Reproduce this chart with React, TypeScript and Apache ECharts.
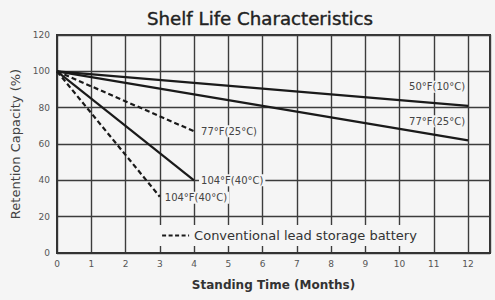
import React, { useEffect, useRef } from "react";
import * as echarts from "echarts";

const title = "Shelf Life Characteristics";
const xName = "Standing Time (Months)";
const yName = "Retention Capacity (%)";
const legendName = "Conventional lead storage battery";

// Lead-calcium (solid) curves
const solid50F: [number, number][] = [[0, 100], [12, 81]];
const solid77F: [number, number][] = [[0, 100], [12, 62]];
const solid104F: [number, number][] = [[0, 100], [4, 40]];
// Conventional lead storage battery (dashed) curves
const dash77F: [number, number][] = [[0, 100], [4, 67]];
const dash104F: [number, number][] = [[0, 100], [3, 31]];

const labels = ["50°F(10°C)", "77°F(25°C)", "104°F(40°C)", "77°F(25°C)", "104°F(40°C)"];

const BG = "#f5f5f5";
const FONT = "DejaVu Sans";
const LINE = "#1a1a1a";

export default function App() {
  const ref = useRef<HTMLDivElement>(null);
  useEffect(() => {
    if (!ref.current) return;
    const chart = echarts.init(ref.current, undefined, { renderer: "svg" });
    const labelStyle = {
      show: true,
      fontFamily: FONT,
      fontSize: 10,
      color: "#444",
      backgroundColor: BG,
      padding: [1, 2],
    };
    const solidLine = { color: LINE, width: 2.2, type: "solid" as const };
    const dashLine = { color: LINE, width: 2.2, type: [5, 3] as any };
    chart.setOption({
      animation: false,
      backgroundColor: BG,
      textStyle: { fontFamily: FONT },
      title: {
        text: title,
        left: 142,
        top: 4,
        textStyle: {
          fontFamily: FONT,
          fontSize: 18.2,
          fontWeight: "normal",
          color: "#222",
          textBorderColor: "#222",
          textBorderWidth: 0.4,
        },
      },
      grid: {
        left: 57,
        right: 5,
        top: 35,
        bottom: 47,
        show: true,
        borderColor: "#333",
        borderWidth: 2,
        backgroundColor: "transparent",
      },
      legend: {
        data: [legendName],
        left: 158,
        top: 225,
        backgroundColor: BG,
        padding: [4, 6, 4, 3],
        itemWidth: 27,
        itemHeight: 12,
        itemGap: 4,
        itemStyle: { opacity: 0, borderWidth: 0 },
        lineStyle: { type: [4, 2.5] as any, width: 2.2, color: LINE },
        textStyle: { fontFamily: FONT, fontSize: 13, color: "#333" },
      },
      xAxis: {
        type: "value",
        min: 0,
        max: 12.64,
        interval: 1,
        name: xName,
        nameLocation: "middle",
        nameGap: 26,
        nameTextStyle: { fontFamily: FONT, fontSize: 12, fontWeight: "bold", color: "#333" },
        axisLine: { show: true, lineStyle: { color: "#333", width: 2 } },
        axisTick: { show: false },
        axisLabel: {
          fontFamily: FONT,
          fontSize: 9,
          color: "#555",
          margin: 6,
          showMaxLabel: false,
          formatter: (v: number) => (Number.isInteger(v) ? String(v) : ""),
        },
        splitLine: { show: true, lineStyle: { color: "#3c3c3c", width: 1.4 } },
      },
      yAxis: {
        type: "value",
        min: 0,
        max: 120,
        interval: 20,
        name: yName,
        nameLocation: "middle",
        nameGap: 35,
        nameTextStyle: { fontFamily: FONT, fontSize: 13, color: "#444" },
        axisLine: { show: true, lineStyle: { color: "#333", width: 2 } },
        axisTick: { show: false },
        axisLabel: { fontFamily: FONT, fontSize: 9, color: "#555", margin: 7 },
        splitLine: { show: true, lineStyle: { color: "#3c3c3c", width: 1.4 } },
      },
      series: [
        {
          type: "line",
          name: labels[0],
          data: solid50F,
          symbol: "none",
          lineStyle: solidLine,
          endLabel: { ...labelStyle, formatter: labels[0], align: "center", verticalAlign: "middle", distance: 0, offset: [-31, -19] },
        },
        {
          type: "line",
          name: labels[1],
          data: solid77F,
          symbol: "none",
          lineStyle: solidLine,
          endLabel: { ...labelStyle, formatter: labels[1], align: "center", verticalAlign: "middle", distance: 0, offset: [-31, -19] },
        },
        {
          type: "line",
          name: labels[2],
          data: solid104F,
          symbol: "none",
          lineStyle: solidLine,
          endLabel: { ...labelStyle, formatter: labels[2], distance: 5 },
        },
        {
          type: "line",
          name: legendName,
          data: dash77F,
          symbol: "none",
          itemStyle: { color: LINE },
          lineStyle: dashLine,
          endLabel: { ...labelStyle, formatter: labels[3], distance: 5 },
        },
        {
          type: "line",
          name: legendName,
          data: dash104F,
          symbol: "none",
          itemStyle: { color: LINE },
          lineStyle: dashLine,
          endLabel: { ...labelStyle, formatter: labels[4], distance: 3, offset: [0, 1] },
        },
      ],
    });
    return () => chart.dispose();
  }, []);
  return (
    <div
      ref={ref}
      style={{ position: "fixed", left: 0, top: 0, width: 495, height: 300, background: BG }}
    />
  );
}
